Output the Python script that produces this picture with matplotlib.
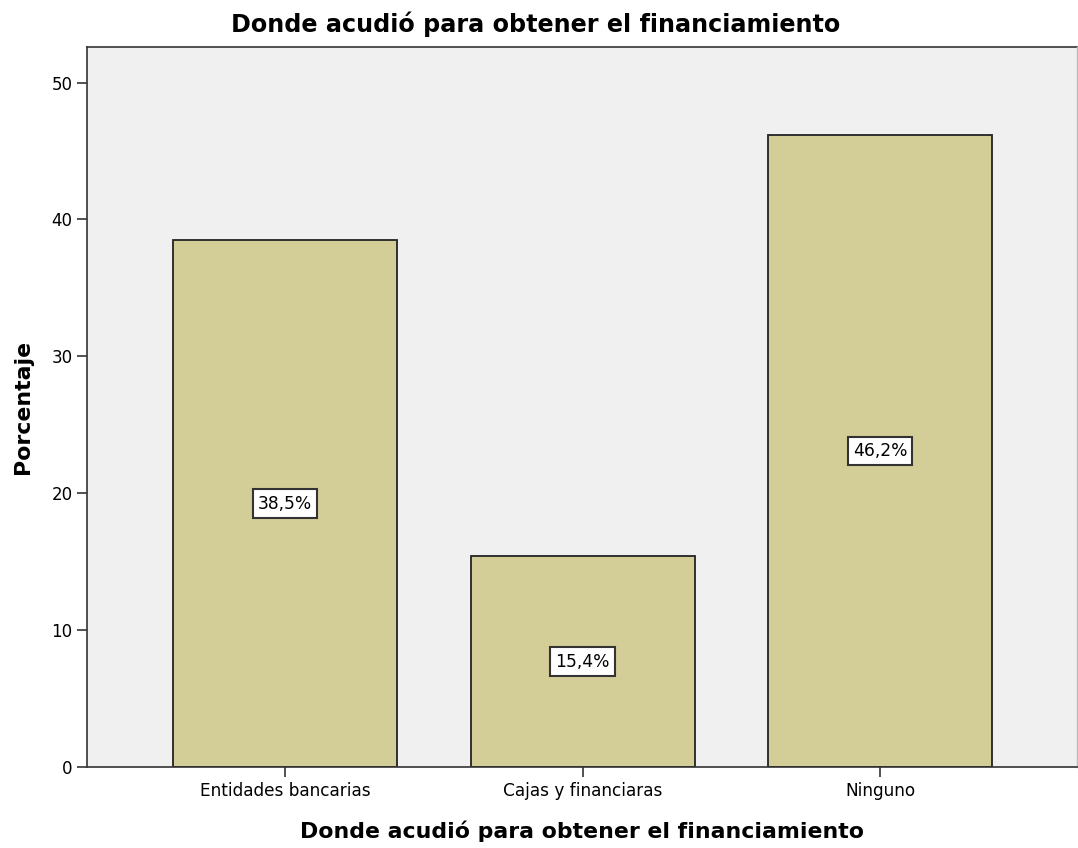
import matplotlib
matplotlib.use('Agg')
import matplotlib.pyplot as plt
import numpy as np

plt.rcParams['font.family'] = ['DejaVu Sans']

categorias = ['Entidades bancarias', 'Cajas y financiaras', 'Ninguno']
porcentajes = [38.5, 15.4, 46.2]
etiquetas = ['38,5%', '15,4%', '46,2%']
yticks = [0, 10, 20, 30, 40, 50]

fig = plt.figure(figsize=(10.78, 8.48), dpi=100)
ax = fig.add_axes([0.0807, 0.0955, 0.9183, 0.8491])
ax.set_facecolor('#F0F0F0')

x = np.arange(len(categorias))
ax.bar(x, porcentajes, width=0.753, color='#D3CE97', edgecolor='#222222', linewidth=1.3, zorder=2)

for xi, v, t in zip(x, porcentajes, etiquetas):
    ax.text(xi, v / 2, t, ha='center', va='center', fontsize=12.3, zorder=3,
            bbox=dict(boxstyle='square,pad=0.3', facecolor='white', edgecolor='#333333', linewidth=1.5))

ax.set_xlim(-0.666, 2.662)
ax.set_ylim(0, 52.6)
ax.set_xticks(x)
ax.set_xticklabels(categorias, fontsize=12.2)
ax.set_yticks(yticks)
ax.set_yticklabels([str(v) for v in yticks], fontsize=12)
ax.tick_params(axis='both', length=7.5, width=1.2, color='#333333', pad=3)

for s in ['top', 'right']:
    ax.spines[s].set_visible(False)
for s in ['left', 'bottom']:
    ax.spines[s].set_linewidth(1.2)
    ax.spines[s].set_color('#333333')
# marco superior del area
ax.plot([0, 1], [1, 1], transform=ax.transAxes, color='#333333', linewidth=1.2, clip_on=False)
ax.plot([1, 1], [0, 1], transform=ax.transAxes, color='#BBBBBB', linewidth=1, clip_on=False)

fig.text(0.497, 0.971, 'Donde acudió para obtener el financiamiento', fontsize=17.2,
         fontweight='bold', ha='center', va='center')
ax.set_xlabel('Donde acudió para obtener el financiamiento', fontsize=15.8, fontweight='bold', labelpad=15)
ax.set_ylabel('Porcentaje', fontsize=15.8, fontweight='bold', labelpad=13)

fig.savefig('out.png', dpi=100)
